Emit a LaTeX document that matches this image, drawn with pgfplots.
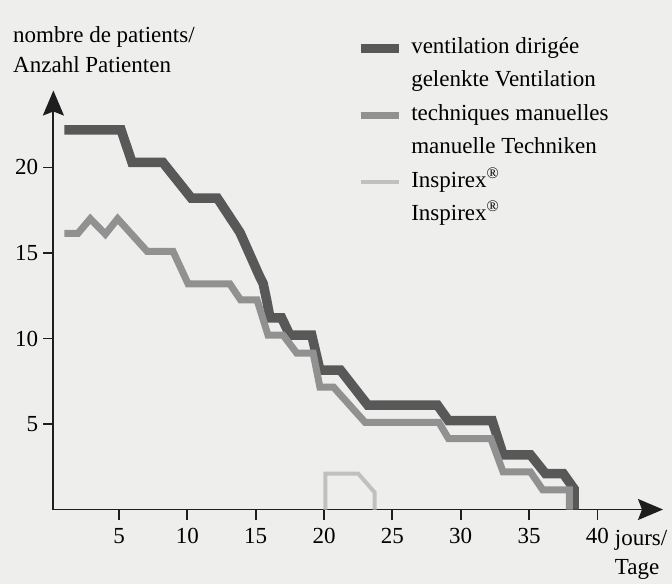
\documentclass[border=0pt]{standalone}
\usepackage{pgfplots}
\pgfplotsset{compat=1.18}
\usetikzlibrary{arrows.meta}
\usepackage{fontspec}
\setmainfont{Liberation Serif}
\definecolor{bg}{RGB}{238,238,236}
\definecolor{darkline}{RGB}{88,88,88}
\definecolor{midline}{RGB}{145,145,145}
\definecolor{lightline}{RGB}{192,192,192}
\definecolor{axiscol}{RGB}{30,30,30}
\begin{document}
\begin{tikzpicture}
\useasboundingbox (0,0) rectangle (672bp,584bp);
\fill[bg] (0,0) rectangle (672bp,584bp);
\begin{axis}[
  at={(53.4bp,74.5bp)}, anchor=south west,
  scale only axis, width=609.6bp, height=419bp,
  xmin=0.2, xmax=44.8, ymin=0, ymax=24.5,
  enlargelimits=false,
  axis lines=left,
  axis line style={axiscol, line width=1.8bp, -{Stealth[length=25bp,width=21bp,inset=4bp]}},
  xtick={5,10,...,40}, ytick={5,10,15,20},
  tick align=outside, major tick length=10bp,
  tick style={axiscol, line width=1.8bp},
  font=\fontsize{23bp}{30bp}\selectfont,
  /pgf/number format/assume math mode=true,
  yticklabel style={inner sep=5bp},
  xticklabel style={inner sep=9bp},
  ylabel={nombre de patients/\\Anzahl Patienten},
  every axis y label/.style={at={(axis description cs:-0.0662,1.153)}, anchor=north west, align=left, inner sep=0pt, font=\fontsize{23bp}{30bp}\selectfont},
  xlabel={jours/\\Tage},
  every axis x label/.style={at={(axis description cs:0.9207,-0.049)}, anchor=north west, align=left, inner sep=0pt, font=\fontsize{23bp}{29bp}\selectfont},
  legend cell align=left,
  legend image code/.code={\draw[#1] (0bp,0bp) -- (38bp,0bp);},
  legend style={draw=none, fill=none, at={(axis description cs:0.496,1.1264)}, anchor=north west, inner sep=0pt, outer sep=0pt, row sep=11.9bp, column sep=8bp, font=\fontsize{23bp}{30bp}\selectfont, nodes={inner sep=0pt, text height=16bp, text depth=5.5bp}},
  line join=miter,
]
\addplot[forget plot, darkline, line width=9.5bp] coordinates {
 (1,22.2) (5.15,22.2) (5.95,20.3) (8.2,20.3) (10.3,18.2) (12.2,18.2)
 (13.85,16.2) (15.3,13.6) (15.55,13.2) (15.8,12.25) (16.05,11.2) (16.9,11.2)
 (17.5,10.2) (19.1,10.2) (19.7,8.15) (21.2,8.15) (23.2,6.1) (28.3,6.1)
 (29.1,5.2) (32.3,5.2) (33.1,3.2) (35.1,3.2) (36.2,2.1) (37.5,2.1)
 (38.3,1.2) (38.3,0)
};
\addplot[forget plot, midline, line width=7bp] coordinates {
 (1,16.15) (2.0,16.15) (2.9,17.0) (4.0,16.1) (4.9,17.0) (7.05,15.1)
 (8.95,15.1) (10.05,13.2) (13.1,13.2) (13.9,12.25) (15.1,12.25) (15.9,10.2)
 (17.0,10.2) (18.0,9.15) (19.2,9.15) (19.7,7.15) (20.7,7.15) (23.0,5.1)
 (28.4,5.1) (29.1,4.15) (32.2,4.15) (33.1,2.2) (35.1,2.2) (36.0,1.15)
 (37.95,1.15) (37.95,0)
};
\addplot[forget plot, lightline, line width=4bp] coordinates {
 (20.1,0) (20.1,2.1) (22.5,2.1) (23.7,1.0) (23.7,0)
};
\addlegendimage{darkline, line width=9.5bp}
\addlegendentry{ventilation dirigée}
\addlegendimage{empty legend}
\addlegendentry{gelenkte Ventilation}
\addlegendimage{midline, line width=7bp}
\addlegendentry{techniques manuelles}
\addlegendimage{empty legend}
\addlegendentry{manuelle Techniken}
\addlegendimage{lightline, line width=4bp}
\addlegendentry{Inspirex\textsuperscript{®}}
\addlegendimage{empty legend}
\addlegendentry{Inspirex\textsuperscript{®}}
\end{axis}
\end{tikzpicture}
\end{document}
